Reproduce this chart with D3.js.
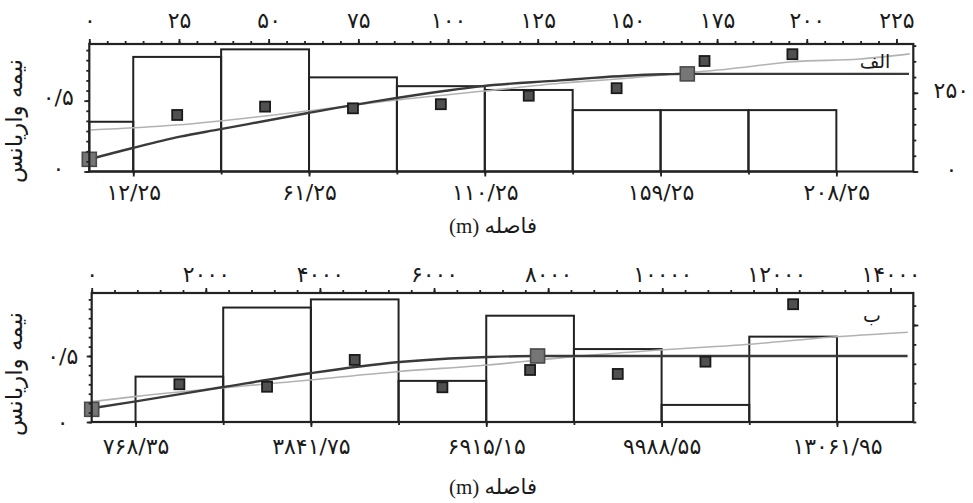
<!DOCTYPE html>
<html><head><meta charset="utf-8">
<script src="https://cdn.jsdelivr.net/npm/d3@7/dist/d3.min.js"></script>
<style>
body{margin:0;background:#fff;}
svg{display:block;}
</style></head><body>
<svg id="c" width="973" height="503"></svg>
<script>
// ---------- Panel الف ----------
const binEdgesA = [0, 12.25, 36.75, 61.25, 85.75, 110.25, 134.75, 159.25, 183.75, 208.25];
const pairCountsA = [158, 364, 388, 299, 271, 259, 195, 195, 195];
const lagsA = [24.5, 49, 73.5, 98, 122.5, 147, 171.5, 196];
const semivarA = [0.399, 0.458, 0.446, 0.475, 0.535, 0.588, 0.780, 0.828];
const keyLagsA = [0, 166.7];
const keyValsA = [0.086, 0.689];
const modelLagsA = [0, 11.8, 25.3, 36.2, 60.6, 81, 99.4, 108.9, 131.2, 140.4, 149.8, 160, 166.7, 228.5];
const modelValsA = [0.086, 0.164, 0.246, 0.297, 0.411, 0.5, 0.57, 0.601, 0.643, 0.661, 0.676, 0.686, 0.689, 0.689];
const trendLagsA = [0, 24.2, 36.4, 60.7, 85.8, 110.3, 131.2, 149.9, 166.6, 177.7, 196.1, 214.8, 228.7];
const trendValsA = [0.293, 0.328, 0.357, 0.427, 0.505, 0.568, 0.623, 0.658, 0.698, 0.722, 0.775, 0.794, 0.83];
const topTicksA = [0, 25, 50, 75, 100, 125, 150, 175, 200, 225];
const topLabelsA = ["۰", "۲۵", "۵۰", "۷۵", "۱۰۰", "۱۲۵", "۱۵۰", "۱۷۵", "۲۰۰", "۲۲۵"];
const bottomTicksA = [12.25, 61.25, 110.25, 159.25, 208.25];
const bottomLabelsA = ["۱۲/۲۵", "۶۱/۲۵", "۱۱۰/۲۵", "۱۵۹/۲۵", "۲۰۸/۲۵"];
const leftTicksA = [0, 0.5];
const leftLabelsA = ["۰", "۰/۵"];
const rightTicksA = [0, 250];
const rightLabelsA = ["۰", "۲۵۰"];

// ---------- Panel ب ----------
const binEdgesB = [0, 768.35, 2305.05, 3841.75, 5378.45, 6915.15, 8451.85, 9988.55, 11525.25, 13061.95];
const pairCountsB = [0, 117, 295, 316, 106, 274, 188, 44, 220];
const lagsB = [1536.7, 3073.4, 4610.1, 6146.8, 7683.5, 9220.2, 10756.9, 12293.6];
const semivarB = [0.286, 0.267, 0.470, 0.263, 0.394, 0.364, 0.457, 0.892];
const keyLagsB = [0, 7815];
const keyValsB = [0.096, 0.5];
const modelLagsB = [0, 746, 2278, 3825, 5344, 6944, 7815, 14300];
const modelValsB = [0.104, 0.154, 0.263, 0.369, 0.452, 0.492, 0.5, 0.5];
const trendLagsB = [0, 746, 3825, 5344, 6944, 8434, 9957, 11533, 12935, 14304];
const trendValsB = [0.154, 0.192, 0.318, 0.381, 0.432, 0.495, 0.545, 0.589, 0.642, 0.68];
const topTicksB = [0, 2000, 4000, 6000, 8000, 10000, 12000, 14000];
const topLabelsB = ["۰", "۲۰۰۰", "۴۰۰۰", "۶۰۰۰", "۸۰۰۰", "۱۰۰۰۰", "۱۲۰۰۰", "۱۴۰۰۰"];
const bottomTicksB = [768.35, 3841.75, 6915.15, 9988.55, 13061.95];
const bottomLabelsB = ["۷۶۸/۳۵", "۳۸۴۱/۷۵", "۶۹۱۵/۱۵", "۹۹۸۸/۵۵", "۱۳۰۶۱/۹۵"];
const leftTicksB = [0, 0.5];
const leftLabelsB = ["۰", "۰/۵"];
const rightTicksB = [250];
const rightLabelsB = [""];

const yTitle = "نیمه واریانس";
const xTitle = "فاصله (m)";

const svg = d3.select("#c");
const FA = "'DejaVu Sans', sans-serif";

function drawPanel(p) {
  const g = svg.append("g");
  const x = d3.scaleLinear().domain([0, p.xMax]).range([p.left, p.right]);
  const y = d3.scaleLinear().domain([0, p.yMax]).range([p.bottom, p.top]);
  const yR = d3.scaleLinear().domain([0, p.rMax]).range([p.bottom, p.top]);

  const bars = p.counts.map((c, i) => ({x0: p.edges[i], x1: p.edges[i + 1], c})).filter(d => d.c > 0);
  g.selectAll("rect.bar").data(bars).join("rect").attr("class", "bar")
    .attr("x", d => x(d.x0)).attr("width", d => x(d.x1) - x(d.x0))
    .attr("y", d => yR(d.c)).attr("height", d => yR(0) - yR(d.c))
    .attr("fill", "none").attr("stroke", "#222").attr("stroke-width", 2);

  const line = d3.line().x(d => x(d[0])).y(d => y(d[1])).curve(d3.curveMonotoneX);
  g.append("path").datum(d3.zip(p.trendLags, p.trendVals)).attr("d", line)
    .attr("fill", "none").attr("stroke", "#b2b2b2").attr("stroke-width", 1.6);
  g.append("path").datum(d3.zip(p.modelLags, p.modelVals)).attr("d", line)
    .attr("fill", "none").attr("stroke", "#3a3a3a").attr("stroke-width", 2.4);

  const s = 10;
  g.selectAll("rect.pt").data(d3.zip(p.lags, p.vals)).join("rect").attr("class", "pt")
    .attr("x", d => x(d[0]) - s / 2).attr("y", d => y(d[1]) - s / 2)
    .attr("width", s).attr("height", s)
    .attr("fill", "#505050").attr("stroke", "#1a1a1a").attr("stroke-width", 1.8);
  const S = 14;
  g.selectAll("rect.key").data(d3.zip(p.keyLags, p.keyVals)).join("rect").attr("class", "key")
    .attr("x", d => x(d[0]) - S / 2).attr("y", d => y(d[1]) - S / 2)
    .attr("width", S).attr("height", S)
    .attr("fill", "#767676").attr("stroke", "#4a4a4a").attr("stroke-width", 1.6);

  g.append("rect").attr("x", p.left).attr("y", p.top)
    .attr("width", p.right - p.left).attr("height", p.bottom - p.top)
    .attr("fill", "none").attr("stroke", "#222").attr("stroke-width", 2.2);

  function styleAxis(sel) {
    sel.select(".domain").remove();
    sel.selectAll(".tick line").attr("stroke", "#222").attr("stroke-width", 1.8);
    sel.selectAll("text").attr("font-size", 22).attr("fill", "#1a1a1a").attr("font-family", FA);
  }

  g.append("g").attr("transform", `translate(0,${p.top})`)
    .call(d3.axisTop(x).tickValues(d3.range(0, p.xMax, p.topMinor)).tickFormat("").tickSize(3))
    .call(styleAxis);
  g.append("g").attr("transform", `translate(0,${p.top})`)
    .call(d3.axisTop(x).tickValues(p.topTicks).tickFormat((d, i) => p.topLabels[i]).tickSize(5))
    .call(styleAxis)
    .call(a => a.selectAll("text").attr("y", p.topDy).attr("dy", "0.35em"));

  g.append("g").attr("transform", `translate(0,${p.bottom})`)
    .call(d3.axisBottom(x).tickValues(p.edges.slice(1)).tickFormat("").tickSize(3))
    .call(styleAxis);
  g.append("g").attr("transform", `translate(0,${p.bottom})`)
    .call(d3.axisBottom(x).tickValues(p.bottomTicks).tickFormat((d, i) => p.bottomLabels[i]).tickSize(5))
    .call(styleAxis)
    .call(a => a.selectAll("text").attr("y", p.bottomDy).attr("dy", "0.35em"));

  g.append("g").attr("transform", `translate(${p.left},0)`)
    .call(d3.axisLeft(y).tickValues(d3.range(0, p.yMax, 0.5 / 7)).tickFormat("").tickSize(3))
    .call(styleAxis);
  g.append("g").attr("transform", `translate(${p.left},0)`)
    .call(d3.axisLeft(y).tickValues(p.leftTicks).tickFormat((d, i) => p.leftLabels[i]).tickSize(5))
    .call(styleAxis)
    .call(a => a.selectAll("text").attr("x", p.leftDx).attr("text-anchor", "middle")
      .attr("y", p.leftDy).attr("dy", "0.35em"));

  g.append("g").attr("transform", `translate(${p.right},0)`)
    .call(d3.axisRight(yR).tickValues(d3.range(0, p.rMax, 50)).tickFormat("").tickSize(3))
    .call(styleAxis);
  g.append("g").attr("transform", `translate(${p.right},0)`)
    .call(d3.axisRight(yR).tickValues(p.rightTicks).tickFormat((d, i) => p.rightLabels[i]).tickSize(5))
    .call(styleAxis)
    .call(a => a.selectAll("text").attr("x", 38).attr("text-anchor", "middle")
      .attr("y", -3).attr("dy", "0.35em"));

  g.append("text").attr("transform", `translate(14,${p.yTitleY}) rotate(-90)`)
    .attr("text-anchor", "middle").attr("dominant-baseline", "central")
    .attr("direction", "rtl").attr("font-size", 23).attr("font-family", FA)
    .attr("fill", "#1a1a1a").text(yTitle);
  g.append("text").attr("x", 493).attr("y", p.xTitleY)
    .attr("text-anchor", "middle").attr("dominant-baseline", "central")
    .attr("direction", "rtl").attr("font-size", 21).attr("fill", "#1a1a1a")
    .attr("font-family", "'Liberation Serif', 'DejaVu Sans', serif").text(xTitle);
  g.append("text").attr("x", p.tagX).attr("y", p.tagY)
    .attr("text-anchor", "middle").attr("dominant-baseline", "central")
    .attr("direction", "rtl").attr("font-size", 19).attr("font-family", FA)
    .attr("fill", "#1a1a1a").text(p.tag);
}

drawPanel({
  left: 89.3, right: 913.3, top: 44, bottom: 171.5,
  xMax: 229.7, yMax: 0.9, rMax: 405,
  edges: binEdgesA, counts: pairCountsA, lags: lagsA, vals: semivarA,
  keyLags: keyLagsA, keyVals: keyValsA,
  modelLags: modelLagsA, modelVals: modelValsA, trendLags: trendLagsA, trendVals: trendValsA,
  topTicks: topTicksA, topLabels: topLabelsA, topMinor: 5, topDy: -24,
  bottomTicks: bottomTicksA, bottomLabels: bottomLabelsA, bottomDy: 21,
  leftTicks: leftTicksA, leftLabels: leftLabelsA, leftDx: -31, leftDy: -4,
  rightTicks: rightTicksA, rightLabels: rightLabelsA,
  yTitleY: 121, xTitleY: 226, tag: "الف", tagX: 875, tagY: 61
});

drawPanel({
  left: 91.7, right: 913.3, top: 293, bottom: 422,
  xMax: 14400, yMax: 0.977, rMax: 332.5,
  edges: binEdgesB, counts: pairCountsB, lags: lagsB, vals: semivarB,
  keyLags: keyLagsB, keyVals: keyValsB,
  modelLags: modelLagsB, modelVals: modelValsB, trendLags: trendLagsB, trendVals: trendValsB,
  topTicks: topTicksB, topLabels: topLabelsB, topMinor: 400, topDy: -19,
  bottomTicks: bottomTicksB, bottomLabels: bottomLabelsB, bottomDy: 24,
  leftTicks: leftTicksB, leftLabels: leftLabelsB, leftDx: -29, leftDy: 0,
  rightTicks: rightTicksB, rightLabels: rightLabelsB,
  yTitleY: 374, xTitleY: 487, tag: "ب", tagX: 872, tagY: 315
});
</script>
</body></html>
